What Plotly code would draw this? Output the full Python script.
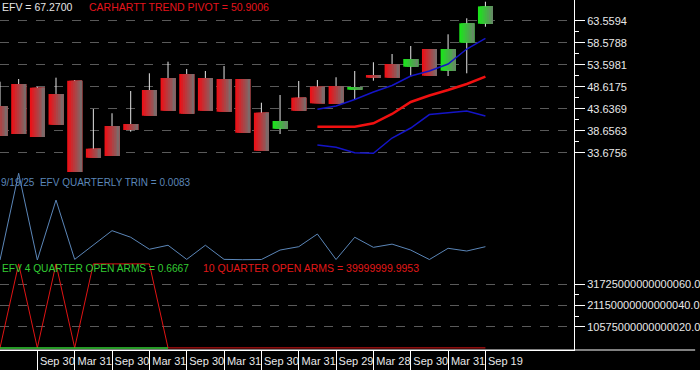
import plotly.graph_objects as go

# ---------------- data (quarterly, index 0 = Mar 2019 ... 26 = Sep 2025) ----------------
opens  = [44.25, 49.23, 48.39, 46.97, 49.98, 34.58, 39.72, 40.17, 47.87, 50.59, 51.49, 50.59, 50.36, 50.36,
          42.73, 39.11, 46.13, 48.62, 48.77, 47.94, 51.26, 53.76, 53.15, 57.15, 52.24, 58.58, 62.88]
highs  = [49.75, 50.36, 48.60, 50.66, 50.13, 43.57, 42.60, 47.64, 51.65, 54.28, 52.63, 52.17, 53.30, 50.36,
          44.99, 46.74, 49.91, 50.13, 50.75, 52.17, 54.15, 56.02, 57.83, 57.15, 60.48, 64.10, 67.86]
lows   = [37.46, 37.91, 37.23, 40.01, 28.63, 32.54, 32.93, 38.43, 42.05, 43.18, 42.50, 43.18, 42.96, 38.20,
          34.13, 37.91, 43.18, 44.86, 44.70, 45.77, 49.98, 50.66, 50.88, 51.11, 51.04, 51.65, 62.20]
closes = [37.46, 37.91, 37.23, 40.01, 28.63, 32.54, 32.93, 38.81, 42.05, 43.18, 42.50, 43.18, 42.96, 38.20,
          34.13, 40.85, 43.18, 44.86, 44.70, 48.55, 50.66, 50.66, 54.89, 51.11, 57.15, 62.97, 66.80]

upper_band = [None] * 17 + [43.50, 44.25, 45.72, 47.42, 48.89, 51.04, 52.17, 53.76, 57.15, 59.58]
pivot      = [None] * 17 + [39.56, 39.56, 39.56, 40.33, 42.44, 45.16, 46.63, 47.87, 49.23, 50.90]
lower_band = [None] * 17 + [35.42, 34.90, 33.68, 33.54, 37.00, 39.27, 42.32, 42.73, 43.12, 41.98]

trin = [0.0000, 0.0541, 0.0000, 0.0374, 0.0004, 0.0093, 0.0183, 0.0142, 0.0067, 0.0092, 0.0004, 0.0092,
        0.0004, 0.0002, 0.0003, 0.0062, 0.0083, 0.0162, 0.0003, 0.0142, 0.0079, 0.0099, 0.0062, 0.0003,
        0.0073, 0.0056, 0.0083]

P = 4.19e16
open_arms_10q = [0, P, 0, P, 0, P, P, P, P] + [0] * 18
open_arms_4q = [0] * 10

date_tick_idx = [2, 4, 6, 8, 10, 12, 14, 16, 18, 20, 22, 24, 26]
date_tick_labels = ["Sep 30", "Mar 31", "Sep 30", "Mar 31", "Sep 30", "Mar 31", "Sep 30", "Mar 31",
                    "Sep 29", "Mar 28", "Sep 30", "Mar 31", "Sep 19"]

price_tick_vals = [63.5594, 58.5788, 53.5981, 48.6175, 43.6369, 38.6563, 33.6756]
price_tick_text = ["63.5594", "58.5788", "53.5981", "48.6175", "43.6369", "38.6563", "33.6756"]
arms_tick_vals = [3.1725e16, 2.115e16, 1.0575e16]
arms_tick_text = ["31725000000000060.0", "21150000000000040.0", "10575000000000020.0"]

FONT = "Liberation Sans, Arial, sans-serif"
idx = list(range(len(opens)))

fig = go.Figure()

# ---------------- candle bodies (gradient slices) ----------------
N = 8
BODY_W = 0.8
red_a, red_b = (235, 18, 24), (125, 105, 105)
grn_a, grn_b = (28, 228, 28), (100, 140, 100)


def mix(a, b, t):
    return "rgb(%d,%d,%d)" % tuple(round(a[j] + (b[j] - a[j]) * t) for j in range(3))


base = [min(o, c) for o, c in zip(opens, closes)]
height = [max(abs(c - o), 0.25) for o, c in zip(opens, closes)]
for k in range(N):
    t = k / (N - 1)
    cols = [mix(grn_a, grn_b, t) if c >= o else mix(red_a, red_b, t) for o, c in zip(opens, closes)]
    fig.add_trace(go.Bar(
        x=idx, y=height, base=base,
        width=BODY_W - k * BODY_W / N, offset=-BODY_W / 2 + k * BODY_W / N,
        marker=dict(color=cols, line=dict(width=0)),
        xaxis="x", yaxis="y", hoverinfo="skip"))

# wicks (outside the body)
wx, wy = [], []
for i, (o, h, l, c) in enumerate(zip(opens, highs, lows, closes)):
    top, bot = max(o, c), min(o, c)
    if h > top:
        wx += [i, i, None]
        wy += [h, top, None]
    if l < bot:
        wx += [i, i, None]
        wy += [bot, l, None]
fig.add_trace(go.Scatter(x=wx, y=wy, mode="lines", line=dict(color="#e6e6e6", width=1),
                         xaxis="x", yaxis="y", hoverinfo="skip"))

# bands
fig.add_trace(go.Scatter(x=idx, y=upper_band, mode="lines", line=dict(color="#1414c8", width=1.5),
                         xaxis="x", yaxis="y"))
fig.add_trace(go.Scatter(x=idx, y=lower_band, mode="lines", line=dict(color="#1414c8", width=1.5),
                         xaxis="x", yaxis="y"))
fig.add_trace(go.Scatter(x=idx, y=pivot, mode="lines", line=dict(color="#f01010", width=2.5),
                         xaxis="x", yaxis="y"))

# TRIN
fig.add_trace(go.Scatter(x=idx, y=trin, mode="lines", line=dict(color="#5b86b8", width=1),
                         xaxis="x", yaxis="y2"))

# Open arms
fig.add_trace(go.Scatter(x=idx, y=open_arms_10q, mode="lines", line=dict(color="#e01414", width=1),
                         xaxis="x", yaxis="y3"))
fig.add_trace(go.Scatter(x=idx[:len(open_arms_4q)], y=open_arms_4q, mode="lines",
                         line=dict(color="#33cc33", width=1.5), xaxis="x", yaxis="y3"))

PLOT_W, PLOT_H = 578, 350


def py(px):
    return 1 - px / PLOT_H


axis_common = dict(side="right", anchor="x", showline=True, linecolor="white", linewidth=1,
                   zeroline=False, tickfont=dict(family=FONT, size=11, color="#e8e8e8"),
                   fixedrange=True)

fig.update_layout(
    width=700, height=370,
    margin=dict(l=0, r=700 - PLOT_W, t=0, b=370 - PLOT_H),
    paper_bgcolor="black", plot_bgcolor="black",
    showlegend=False, barmode="overlay",
    xaxis=dict(anchor="y3", range=[0, PLOT_W / 18.8], showgrid=False, zeroline=False,
               showline=True, linecolor="white", linewidth=1,
               tickmode="array", tickvals=date_tick_idx, ticktext=date_tick_labels,
               ticks="outside", ticklen=20, tickcolor="white", tickwidth=1,
               tickfont=dict(family=FONT, size=11, color="#e8e8e8"),
               ticklabelshift=20, ticklabelstandoff=-19, fixedrange=True),
    yaxis=dict(domain=[py(177), 1], range=[28.175, 68.246],
               tickmode="array", tickvals=price_tick_vals, ticktext=price_tick_text,
               ticks="outside", ticklen=10, tickcolor="white",
               minor=dict(tickmode="array",
                          tickvals=[(a + b) / 2 for a, b in zip(price_tick_vals[:-1], price_tick_vals[1:])],
                          ticks="outside", ticklen=4, tickcolor="white", showgrid=False),
               showgrid=True, gridcolor="#5a5a5a", griddash="dash", gridwidth=1,
               **axis_common),
    yaxis2=dict(domain=[py(262), py(172)], range=[-0.00125, 0.0549],
                showticklabels=False, ticks="", showgrid=False, **axis_common),
    yaxis3=dict(domain=[0, py(262)], range=[-1.05e15, 4.285e16],
                tickmode="array", tickvals=arms_tick_vals, ticktext=arms_tick_text,
                ticks="outside", ticklen=10, tickcolor="white",
                minor=dict(tickmode="array",
                           tickvals=[(a + b) / 2 for a, b in zip(arms_tick_vals[:-1], arms_tick_vals[1:])],
                           ticks="outside", ticklen=4, tickcolor="white", showgrid=False),
                showgrid=True, gridcolor="#5a5a5a", griddash="dash", gridwidth=1,
                **axis_common),
    shapes=[dict(type="line", xref="paper", yref="paper", x0=0, x1=700 / PLOT_W, y0=0, y1=0,
                 line=dict(color="white", width=1))],
)


def label(text, xpx, ypx, color, size=10.5):
    fig.add_annotation(text=text, xref="paper", yref="paper", x=xpx / PLOT_W, y=py(ypx),
                       xanchor="left", yanchor="middle", showarrow=False,
                       font=dict(family=FONT, size=size, color=color))


label("EFV = 67.2700", 0, 7, "#e6e6e6")
label("CARHARTT TREND PIVOT = 50.9006", 88, 7, "#e4141c")
label("9/19/25\u00a0\u00a0EFV QUARTERLY TRIN = 0.0083", -1, 182, "#5b86b8", 10)
label("EFV 4 QUARTER OPEN ARMS = 0.6667", 0, 268, "#33cc33", 10.2)
label("10 QUARTER OPEN ARMS = 39999999.9953", 202, 268, "#e01818")

fig.write_html("out.html", config={"displayModeBar": False},
               post_script="document.body.style.margin='0';document.body.style.overflow='hidden';")
